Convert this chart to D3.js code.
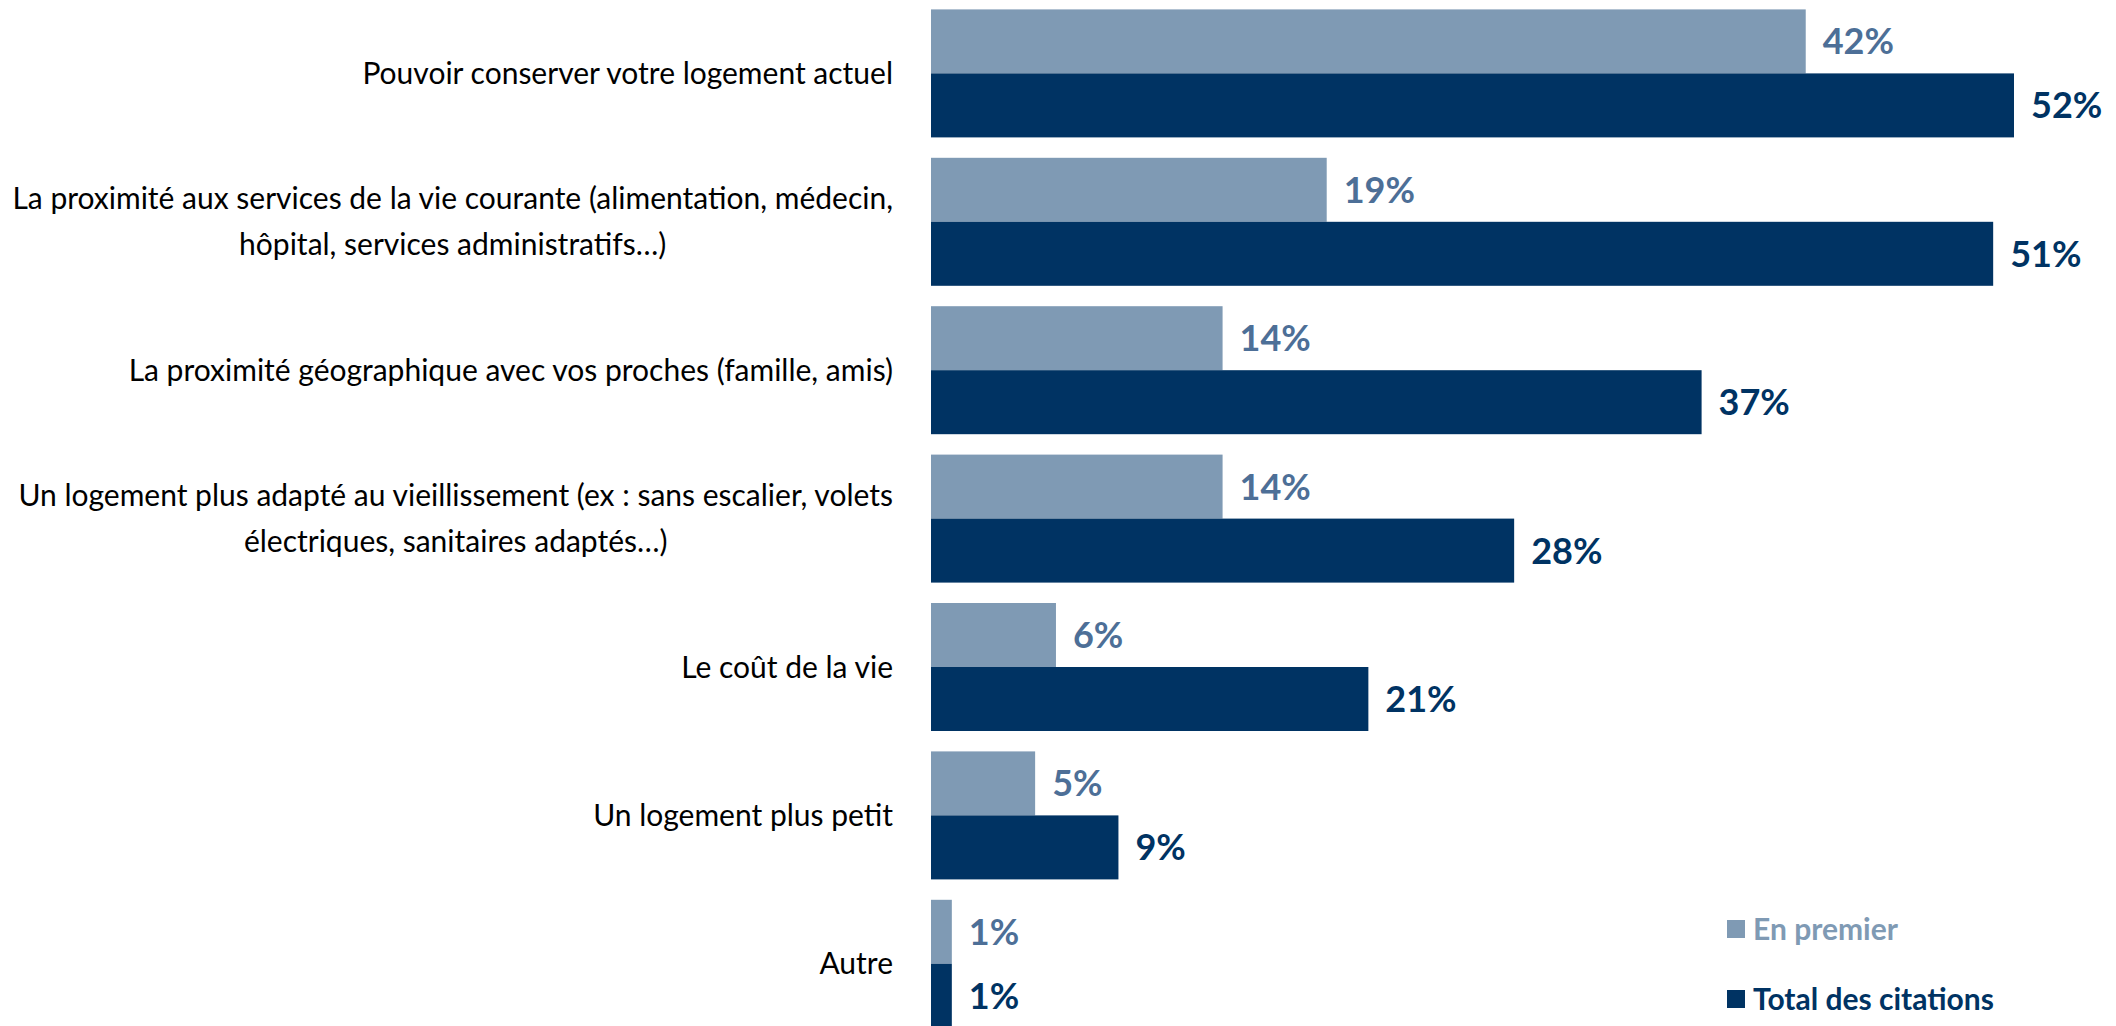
<!DOCTYPE html>
<html>
<head>
<meta charset="utf-8">
<script src="https://cdn.jsdelivr.net/npm/d3@7"></script>
<style>
  html, body { margin: 0; padding: 0; background: #fff; overflow: hidden; }
  svg { display: block; }
</style>
</head>
<body>
<svg id="chart" width="2116" height="1026"></svg>
<script>
const categories = [
  "Pouvoir conserver votre logement actuel",
  "La proximité aux services de la vie courante (alimentation, médecin, hôpital, services administratifs…)",
  "La proximité géographique avec vos proches (famille, amis)",
  "Un logement plus adapté au vieillissement (ex : sans escalier, volets électriques, sanitaires adaptés…)",
  "Le coût de la vie",
  "Un logement plus petit",
  "Autre"
];
const categoryLines = [
  ["Pouvoir conserver votre logement actuel"],
  ["La proximité aux services de la vie courante (alimentation, médecin,", "hôpital, services administratifs…)"],
  ["La proximité géographique avec vos proches (famille, amis)"],
  ["Un logement plus adapté au vieillissement (ex : sans escalier, volets", "électriques, sanitaires adaptés…)"],
  ["Le coût de la vie"],
  ["Un logement plus petit"],
  ["Autre"]
];
const seriesNames = ["En premier", "Total des citations"];
const enPremier = [42, 19, 14, 14, 6, 5, 1];
const totalCitations = [52, 51, 37, 28, 21, 9, 1];

const barColors = ["#7F9AB4", "#003363"];
const labelColors = ["#4D6F97", "#003363"];
const legendTextColors = ["#7F9AB4", "#003363"];

const svg = d3.select("#chart");
const font = "Lato, 'Open Sans', sans-serif";

const x = d3.scaleLinear().domain([0, 52]).range([931, 2014]);
const y = d3.scaleBand().domain(categories).range([-0.8, 1038])
  .paddingInner(0.1375).paddingOuter(0.06875);
const ySub = d3.scaleBand().domain(seriesNames).range([0, y.bandwidth()]);

const data = categories.map((c, i) => ({
  cat: c, lines: categoryLines[i],
  values: [enPremier[i], totalCitations[i]]
}));

// bars
const groups = svg.append("g").selectAll("g").data(data).join("g")
  .attr("transform", d => `translate(0,${y(d.cat)})`);

groups.selectAll("rect").data(d => d.values.map((v, k) => ({v, k})))
  .join("rect")
  .attr("x", x(0))
  .attr("y", d => ySub(seriesNames[d.k]))
  .attr("width", d => x(d.v) - x(0))
  .attr("height", ySub.bandwidth())
  .attr("fill", d => barColors[d.k]);

// value labels
const valueFontSize = 36;
groups.selectAll("text.val").data(d => d.values.map((v, k) => ({v, k})))
  .join("text")
  .attr("class", "val")
  .attr("x", d => x(d.v) + 17)
  .attr("y", d => ySub(seriesNames[d.k]) + ySub.bandwidth() / 2)
  .attr("dy", "0.36em")
  .attr("font-family", font)
  .attr("font-weight", 700)
  .attr("font-size", valueFontSize)
  .attr("fill", d => labelColors[d.k])
  .text(d => d.v + "%");

// category labels
const labelFontSize = 30;
const labelRight = 893;
const lineGap = 46;
const labelG = svg.append("g");
data.forEach(d => {
  const g = labelG.append("g");
  const cy = y(d.cat) + y.bandwidth() / 2;
  const n = d.lines.length;
  const texts = d.lines.map((ln, j) => g.append("text")
    .attr("y", cy + (j - (n - 1) / 2) * lineGap)
    .attr("dy", "0.35em")
    .attr("font-family", font)
    .attr("font-size", labelFontSize)
    .attr("fill", "#000")
    .attr("text-anchor", "middle")
    .text(ln));
  const w = d3.max(texts, t => t.node().getComputedTextLength());
  texts.forEach(t => t.attr("x", labelRight - w / 2));
});

// legend
const legend = svg.append("g");
const legendY = [929, 999];
seriesNames.forEach((s, k) => {
  legend.append("rect")
    .attr("x", 1727).attr("y", legendY[k] - 9)
    .attr("width", 18).attr("height", 18)
    .attr("fill", barColors[k]);
  legend.append("text")
    .attr("x", 1753).attr("y", legendY[k])
    .attr("dy", "0.36em")
    .attr("font-family", font)
    .attr("font-weight", 700)
    .attr("font-size", 30)
    .attr("fill", legendTextColors[k])
    .text(s);
});
</script>
</body>
</html>
